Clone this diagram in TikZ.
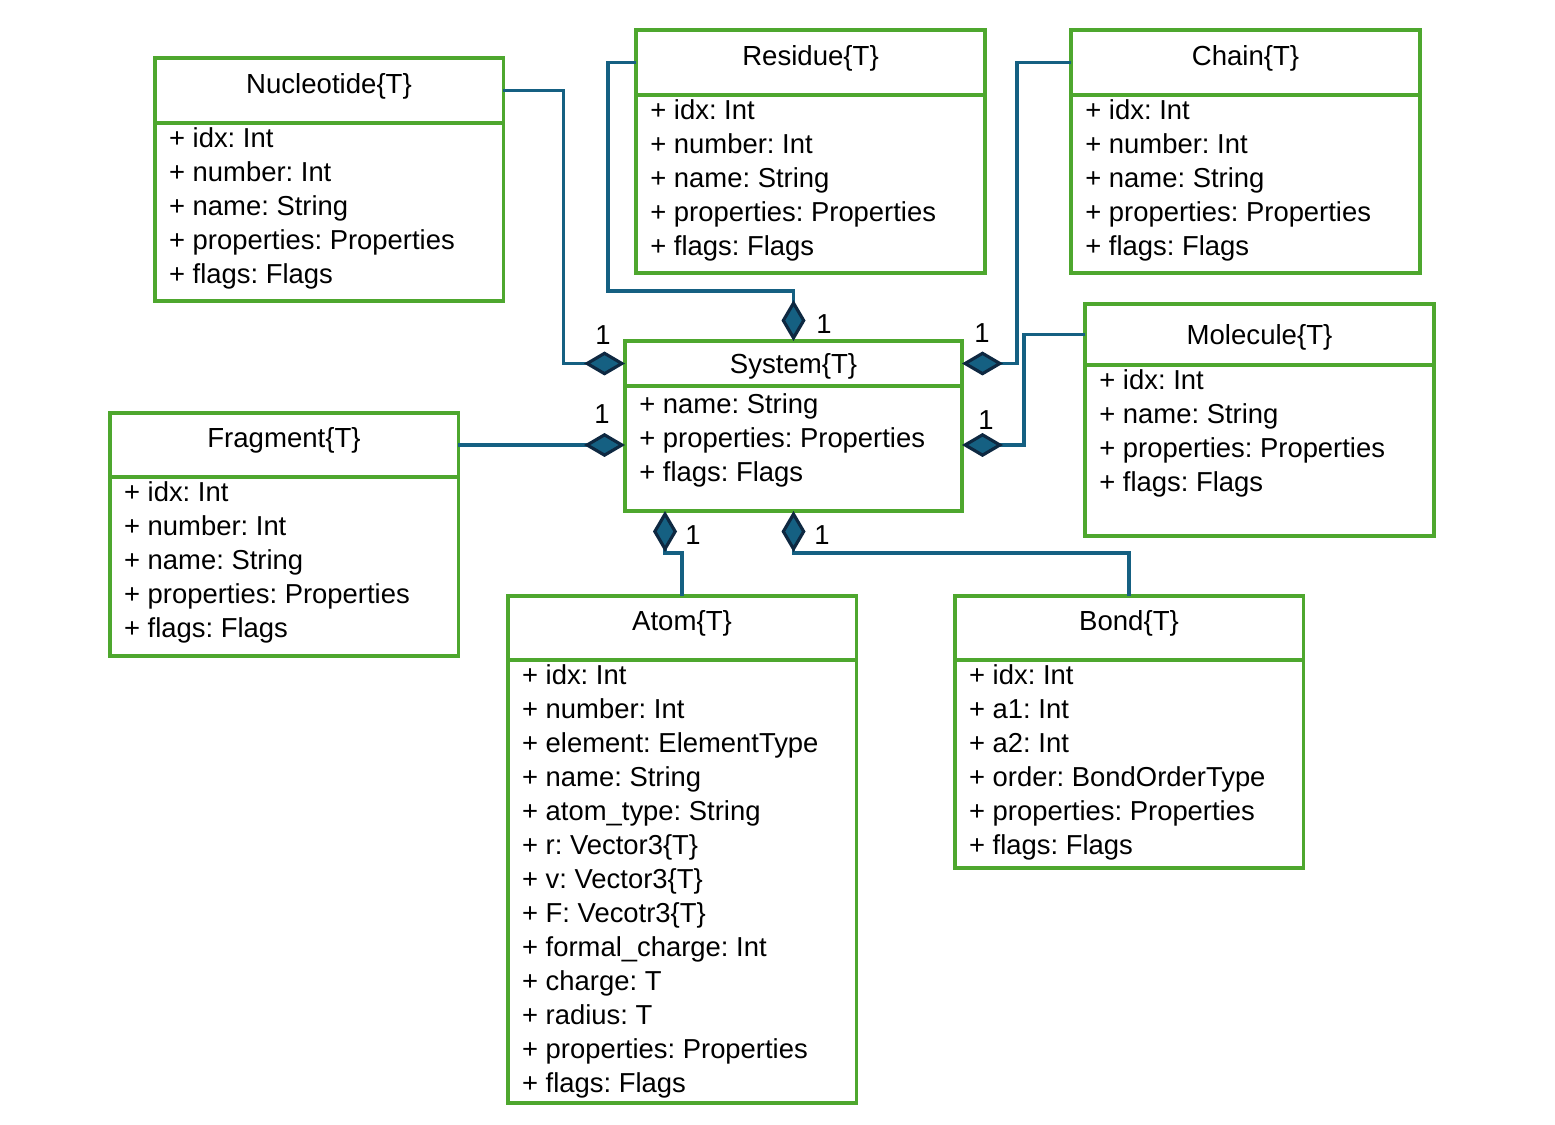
\documentclass[tikz,border=0pt]{standalone}
\usepackage{fontspec}
\setmainfont{Liberation Sans}
\usepackage{xcolor}
\usepackage{tikz}
\usetikzlibrary{arrows.meta, positioning, calc}
\definecolor{umlgreen}{HTML}{4EA72E}
\definecolor{umlblue}{HTML}{156082}
\definecolor{umlnavy}{HTML}{0E2841}
\frenchspacing

\begin{document}
\begin{tikzpicture}[
    node distance=0pt,
    classhead/.style={rectangle, draw=umlgreen, line width=2pt, outer sep=0pt, minimum width=6.97cm, minimum height=1.3cm, font=\fontsize{15.7}{19.35}\selectfont, text height=11.8pt, text depth=8.6pt},
    classbody/.style={rectangle, draw=umlgreen, line width=2pt, outer sep=0pt, minimum width=6.97cm},
    members/.style={anchor=north west, align=left, inner xsep=0.28cm, inner ysep=0.085cm, font=\fontsize{15.6}{19.35}\selectfont},
    comp/.style={draw=umlblue, line width=1.8pt, -{Diamond[length=0.82cm, width=0.48cm, color=umlnavy, fill=umlblue]}},
    mult/.style={font=\fontsize{15.6}{19.35}\selectfont, inner sep=0pt},
]
\useasboundingbox (0,0) rectangle (31.1,-22.5);

\node[classhead] (nuclhead) at (6.58,-1.81) {Nucleotide\{T\}};
\node[classbody, minimum height=3.56cm, below=of nuclhead] (nuclbody) {};
\node[members] (nucltxt) at (nuclbody.north west) {+ idx: Int\\+ number: Int\\+ name: String\\+ properties: Properties\\+ flags: Flags};

\node[classhead, minimum width=6.98cm] (reshead) at (16.21,-1.25) {Residue\{T\}};
\node[classbody, minimum width=6.98cm, minimum height=3.56cm, below=of reshead] (resbody) {};
\node[members] (restxt) at (resbody.north west) {+ idx: Int\\+ number: Int\\+ name: String\\+ properties: Properties\\+ flags: Flags};

\node[classhead, minimum width=6.98cm] (chainhead) at (24.91,-1.25) {Chain\{T\}};
\node[classbody, minimum width=6.98cm, minimum height=3.56cm, below=of chainhead] (chainbody) {};
\node[members] (chaintxt) at (chainbody.north west) {+ idx: Int\\+ number: Int\\+ name: String\\+ properties: Properties\\+ flags: Flags};

\node[classhead, minimum width=6.98cm, minimum height=1.22cm, text depth=0pt] (molhead) at (25.19,-6.69) {Molecule\{T\}};
\node[classbody, minimum width=6.98cm, minimum height=3.42cm, below=of molhead] (molbody) {};
\node[members] (moltxt) at (molbody.north west) {+ idx: Int\\+ name: String\\+ properties: Properties\\+ flags: Flags};

\node[classhead, minimum width=6.74cm, minimum height=0.9cm, text depth=0pt] (syshead) at (15.87,-7.27) {System\{T\}};
\node[classbody, minimum width=6.74cm, minimum height=2.5cm, below=of syshead] (sysbody) {};
\node[members, inner ysep=0.14cm] (systxt) at (sysbody.north west) {+ name: String\\+ properties: Properties\\+ flags: Flags};

\node[classhead, minimum height=1.28cm] (fraghead) at (5.68,-8.90) {Fragment\{T\}};
\node[classbody, minimum height=3.58cm, below=of fraghead] (fragbody) {};
\node[members] (fragtxt) at (fragbody.north west) {+ idx: Int\\+ number: Int\\+ name: String\\+ properties: Properties\\+ flags: Flags};

\node[classhead, minimum height=1.28cm] (atomhead) at (13.64,-12.56) {Atom\{T\}};
\node[classbody, minimum height=8.86cm, below=of atomhead] (atombody) {};
\node[members] (atomtxt) at (atombody.north west) {+ idx: Int\\+ number: Int\\+ element: ElementType\\+ name: String\\+ atom\_type: String\\+ r: Vector3\{T\}\\+ v: Vector3\{T\}\\+ F: Vecotr3\{T\}\\+ formal\_charge: Int\\+ charge: T\\+ radius: T\\+ properties: Properties\\+ flags: Flags};

\node[classhead, minimum height=1.28cm] (bondhead) at (22.58,-12.56) {Bond\{T\}};
\node[classbody, minimum height=4.16cm, below=of bondhead] (bondbody) {};
\node[members] (bondtxt) at (bondbody.north west) {+ idx: Int\\+ a1: Int\\+ a2: Int\\+ order: BondOrderType\\+ properties: Properties\\+ flags: Flags};

\draw[comp] (nuclhead.east) -- ++(1.2,0) |- (syshead.west);
\draw[comp] (reshead.west) -- ++(-0.56,0) -- ++(0,-4.57) -| (syshead.north);
\draw[comp] (chainhead.west) -- ++(-1.08,0) |- (syshead.east);
\draw[comp] (molhead.west) -- ++(-1.22,0) |- ([yshift=0.07cm]sysbody.east);
\draw[comp] (fraghead.east) -- (fraghead.east -| sysbody.west);
\draw[comp] (atomhead.north) -- ++(0,0.86) -| ([xshift=-2.57cm]sysbody.south);
\draw[comp] (bondhead.north) -- ++(0,0.86) -| (sysbody.south);

\node[mult] (nuclmult) at (12.06,-6.70) {1};
\node[mult] (resmult) at (16.48,-6.48) {1};
\node[mult] (chainmult) at (19.64,-6.66) {1};
\node[mult] (molmult) at (19.72,-8.40) {1};
\node[mult] (fragmult) at (12.04,-8.28) {1};
\node[mult] (atommult) at (13.86,-10.70) {1};
\node[mult] (bondmult) at (16.44,-10.70) {1};

\end{tikzpicture}
\end{document}
